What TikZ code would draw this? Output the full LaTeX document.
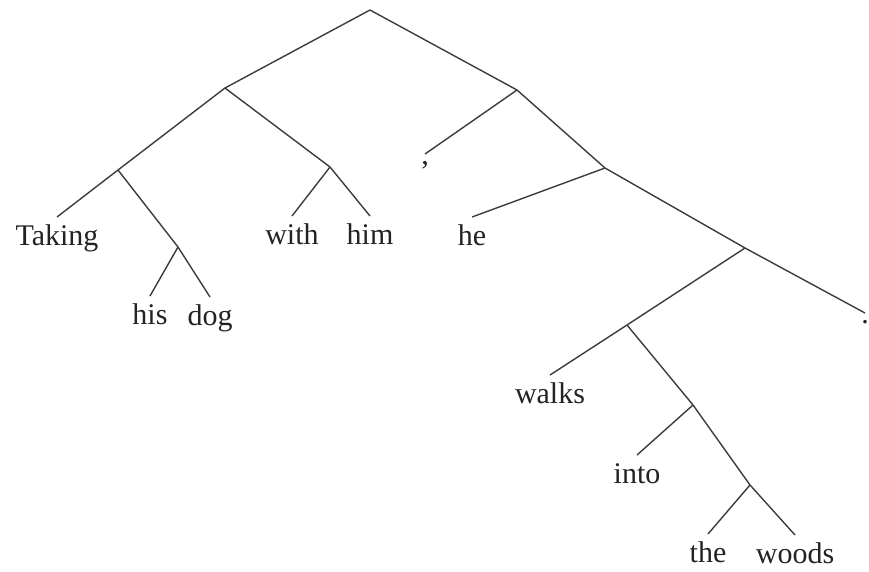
\documentclass[tikz,border=0pt]{standalone}
\usepackage{fontspec}
\setmainfont{Liberation Serif}
\usepackage{tikz}
\usetikzlibrary{positioning}
\definecolor{branch}{RGB}{60,60,60}
\definecolor{word}{RGB}{35,35,35}

\begin{document}
\begin{tikzpicture}[x=1pt,y=-1pt,
  edge/.style={draw=branch,line width=1.4pt},
  leaf/.style={anchor=north,inner sep=8pt,text height=20pt,text depth=6pt,
    font=\fontsize{30}{32}\selectfont,text=word},
  punct/.style={leaf,inner sep=8pt,text height=2pt,text depth=4pt}]
  \useasboundingbox (0,0) rectangle (869,571);
  % inner points of the tree
  \coordinate (root) at (370,10);
  \coordinate (np) at (225,88);
  \coordinate (cl) at (517,90);
  \coordinate (vp) at (118,170);
  \coordinate (pp) at (330,167);
  \coordinate (obj) at (178,247);
  \coordinate (ip) at (605,168);
  \coordinate (vbar) at (745,248);
  \coordinate (vp2) at (627,325);
  \coordinate (pp2) at (693,405);
  \coordinate (dp) at (750,485);
  % words
  \node[leaf] (taking) at (57,217) {Taking};
  \node[leaf] (his) at (150,296) {his};
  \node[leaf] (dog) at (210,297) {dog};
  \node[leaf] (with) at (292,216) {with};
  \node[leaf] (him) at (370,216) {him};
  \node[punct] (comma) at (425,154) {,};
  \node[leaf] (he) at (472,217) {he};
  \node[leaf] (walks) at (550,375) {walks};
  \node[leaf] (into) at (637,455) {into};
  \node[leaf] (the) at (708,534) {the};
  \node[leaf] (woods) at (795,535) {woods};
  \node[punct] (stop) at (865,313) {.};
  % branches
  \draw[edge] (root) -- (np); \draw[edge] (root) -- (cl);
  \draw[edge] (np) -- (vp); \draw[edge] (np) -- (pp);
  \draw[edge] (vp) -- (taking.north); \draw[edge] (vp) -- (obj);
  \draw[edge] (obj) -- (his.north); \draw[edge] (obj) -- (dog.north);
  \draw[edge] (pp) -- (with.north); \draw[edge] (pp) -- (him.north);
  \draw[edge] (cl) -- (comma.north); \draw[edge] (cl) -- (ip);
  \draw[edge] (ip) -- (he.north); \draw[edge] (ip) -- (vbar);
  \draw[edge] (vbar) -- (vp2); \draw[edge] (vbar) -- (stop.north);
  \draw[edge] (vp2) -- (walks.north); \draw[edge] (vp2) -- (pp2);
  \draw[edge] (pp2) -- (into.north); \draw[edge] (pp2) -- (dp);
  \draw[edge] (dp) -- (the.north); \draw[edge] (dp) -- (woods.north);
\end{tikzpicture}
\end{document}
